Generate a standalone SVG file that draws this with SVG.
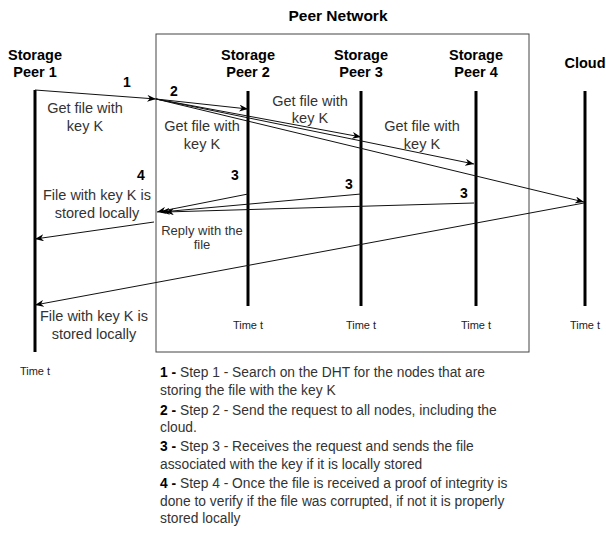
<svg xmlns="http://www.w3.org/2000/svg" width="606" height="545" viewBox="0 0 606 545">
<style>
.t{font-family:"Liberation Sans",Arial,sans-serif;fill:#333;}
.b{font-family:"Liberation Sans",Arial,sans-serif;font-weight:bold;fill:#000;}
.lbl{font-size:14.5px;text-anchor:middle;}
.num{font-size:14px;text-anchor:middle;}
.tm{font-size:11px;text-anchor:middle;fill:#222;}
.lg{font-size:13.8px;}
.life{stroke:#000;stroke-width:3;fill:none;}
.msg{stroke:#111;stroke-width:1;fill:none;marker-end:url(#ah);}
</style>
<defs>
<marker id="ah" viewBox="0 0 10 8" refX="10" refY="4" markerWidth="9" markerHeight="7" orient="auto" markerUnits="userSpaceOnUse">
<path d="M0,0 L10,4 L0,8 L3,4 z" fill="#000"/>
</marker>
</defs>
<rect width="606" height="545" fill="#fff"/>

<g id="peer-network">
<rect x="156" y="34" width="373" height="318" fill="none" stroke="#444" stroke-width="1"/>
<text class="b" x="338" y="21" font-size="15.5" text-anchor="middle">Peer Network</text>
</g>

<g id="peer1">
<text class="b lbl" x="35" y="60">Storage</text>
<text class="b lbl" x="35" y="77">Peer 1</text>
<line class="life" x1="35" y1="90" x2="35" y2="352"/>
<text class="t tm" x="35" y="375">Time t</text>
</g>
<g id="peer2">
<text class="b lbl" x="248" y="60">Storage</text>
<text class="b lbl" x="248" y="77">Peer 2</text>
<line class="life" x1="248" y1="91" x2="248" y2="306"/>
<text class="t tm" x="248" y="329">Time t</text>
</g>
<g id="peer3">
<text class="b lbl" x="361" y="60">Storage</text>
<text class="b lbl" x="361" y="77">Peer 3</text>
<line class="life" x1="361" y1="91" x2="361" y2="306"/>
<text class="t tm" x="361" y="329">Time t</text>
</g>
<g id="peer4">
<text class="b lbl" x="476" y="60">Storage</text>
<text class="b lbl" x="476" y="77">Peer 4</text>
<line class="life" x1="476" y1="91" x2="476" y2="306"/>
<text class="t tm" x="476" y="329">Time t</text>
</g>
<g id="cloud">
<text class="b lbl" x="585" y="68">Cloud</text>
<line class="life" x1="585" y1="91" x2="585" y2="306"/>
<text class="t tm" x="585" y="329">Time t</text>
</g>

<g id="connectors">
<line class="msg" x1="35" y1="90" x2="156" y2="99"/>
<line class="msg" x1="156" y1="99" x2="248" y2="109"/>
<line class="msg" x1="156" y1="99" x2="361" y2="137"/>
<line class="msg" x1="156" y1="99" x2="474" y2="164"/>
<line class="msg" x1="156" y1="99" x2="584" y2="202"/>
<line class="msg" x1="248" y1="194" x2="157" y2="212"/>
<line class="msg" x1="361" y1="194" x2="161" y2="212"/>
<line class="msg" x1="474" y1="203" x2="165" y2="212"/>
<line class="msg" x1="154" y1="222" x2="35" y2="239"/>
<line class="msg" x1="584" y1="203" x2="35" y2="305"/>
</g>

<g id="labels">
<text class="b num" x="127" y="87">1</text>
<text class="b num" x="174" y="96">2</text>
<text class="b num" x="235" y="180">3</text>
<text class="b num" x="349" y="189">3</text>
<text class="b num" x="464" y="198">3</text>
<text class="b num" x="141" y="180">4</text>

<text class="t lbl" x="85" y="113">Get file with</text>
<text class="t lbl" x="85" y="131">key K</text>
<text class="t lbl" x="202" y="131">Get file with</text>
<text class="t lbl" x="202" y="149">key K</text>
<text class="t lbl" x="310" y="106">Get file with</text>
<text class="t lbl" x="310" y="123">key K</text>
<text class="t lbl" x="422" y="131">Get file with</text>
<text class="t lbl" x="422" y="149">key K</text>

<text class="t lbl" x="97" y="200">File with key K is</text>
<text class="t lbl" x="97" y="218">stored locally</text>
<text class="t" x="202" y="235" font-size="13" text-anchor="middle">Reply with the</text>
<text class="t" x="202" y="249" font-size="13" text-anchor="middle">file</text>
<text class="t lbl" x="94" y="321">File with key K is</text>
<text class="t lbl" x="94" y="339">stored locally</text>
</g>

<g id="legend">
<text class="t lg" x="160" y="377"><tspan class="b">1 -</tspan> Step 1 - Search on the DHT for the nodes that are</text>
<text class="t lg" x="160" y="395">storing the file with the key K</text>
<text class="t lg" x="160" y="415"><tspan class="b">2 -</tspan> Step 2 - Send the request to all nodes, including the</text>
<text class="t lg" x="160" y="432">cloud.</text>
<text class="t lg" x="160" y="451"><tspan class="b">3 -</tspan> Step 3 - Receives the request and sends the file</text>
<text class="t lg" x="160" y="469">associated with the key if it is locally stored</text>
<text class="t lg" x="160" y="488"><tspan class="b">4 -</tspan> Step 4 - Once the file is received a proof of integrity is</text>
<text class="t lg" x="160" y="506">done to verify if the file was corrupted, if not it is properly</text>
<text class="t lg" x="160" y="523">stored locally</text>
</g>
</svg>
